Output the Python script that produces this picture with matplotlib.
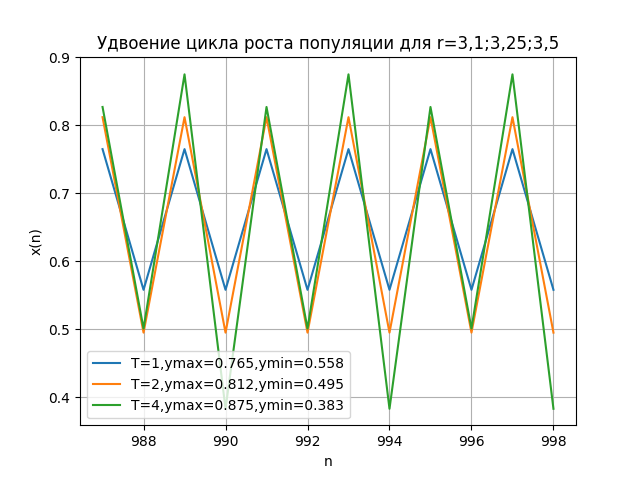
import matplotlib.pyplot as plt

n = [987, 988, 989, 990, 991, 992, 993, 994, 995, 996, 997, 998]
x_r31 = [0.765, 0.558, 0.765, 0.558, 0.765, 0.558, 0.765, 0.558, 0.765, 0.558, 0.765, 0.558]
x_r325 = [0.812, 0.495, 0.812, 0.495, 0.812, 0.495, 0.812, 0.495, 0.812, 0.495, 0.812, 0.495]
x_r35 = [0.827, 0.501, 0.875, 0.383, 0.827, 0.501, 0.875, 0.383, 0.827, 0.501, 0.875, 0.383]

labels = ["T=1,ymax=0.765,ymin=0.558",
          "T=2,ymax=0.812,ymin=0.495",
          "T=4,ymax=0.875,ymin=0.383"]

fig, ax = plt.subplots(figsize=(6.4, 4.78), dpi=100)
ax.plot(n, x_r31, label=labels[0])
ax.plot(n, x_r325, label=labels[1])
ax.plot(n, x_r35, label=labels[2])

ax.set_title("Удвоение цикла роста популяции для r=3,1;3,25;3,5")
ax.set_xlabel("n")
ax.set_ylabel("x(n)")
ax.set_ylim(0.3585, 0.9)
ax.grid(True)
ax.legend(loc="lower left")

plt.savefig("out.png", dpi=100)
